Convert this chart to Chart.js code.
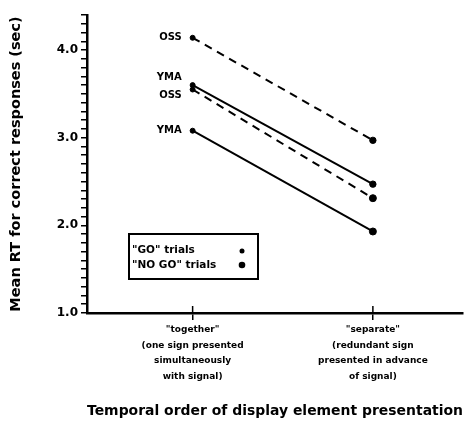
<!DOCTYPE html>
<html>
<head>
<meta charset="utf-8">
<script src="https://cdn.jsdelivr.net/npm/chart.js@4"></script>
<style>
  html, body { margin: 0; padding: 0; background: #fff; }
  #wrap { width: 473px; height: 422px; }
</style>
</head>
<body>
<div id="wrap"><canvas id="c" width="473" height="422"></canvas></div>
<script>
// ---- data ----
const categories = [
  ['"together"', '(one sign presented', 'simultaneously', 'with signal)'],
  ['"separate"', '(redundant sign', 'presented in advance', 'of signal)']
];
const categoryIndex = [0, 1];
const ossGo   = [4.14, 2.97];
const ymaGo   = [3.60, 2.47];
const ossNoGo = [3.55, 2.31];
const ymaNoGo = [3.08, 1.93];
const yLabelTicks = [1.0, 2.0, 3.0, 4.0];
const seriesNames = ['OSS', 'YMA', 'OSS', 'YMA'];
const legendLabels = ['"GO" trials', '"NO GO" trials'];

const FONT = '"DejaVu Sans", "Liberation Sans", Arial, sans-serif';

function pts(arr) { return arr.map((v, i) => ({ x: categoryIndex[i], y: v })); }

function makeSet(name, arr, dashed, endRadius) {
  return {
    label: name,
    data: pts(arr),
    borderColor: '#000',
    backgroundColor: '#000',
    borderWidth: 2,
    borderDash: dashed ? [8, 6] : [],
    pointRadius: [2.5, endRadius],
    pointBorderWidth: 1,
    pointBackgroundColor: '#000',
    pointBorderColor: '#000',
    tension: 0
  };
}

const labelOffsets = [0, -8, 6, 0]; // vertical nudges of the OSS/YMA labels

const annotPlugin = {
  id: 'annot',
  afterDatasetsDraw(chart) {
    const ctx = chart.ctx;
    const xs = chart.scales.x, ys = chart.scales.y;
    ctx.save();
    // series labels at the "together" points
    ctx.fillStyle = '#000';
    ctx.font = 'bold 10px ' + FONT;
    ctx.textAlign = 'right';
    ctx.textBaseline = 'middle';
    chart.data.datasets.forEach((ds, i) => {
      const p = ds.data[0];
      const px = xs.getPixelForValue(p.x);
      const py = ys.getPixelForValue(p.y);
      ctx.fillText(seriesNames[i], px - 11, py + labelOffsets[i]);
    });
    // x ticks crossing the axis (upper part)
    ctx.strokeStyle = '#000';
    ctx.lineWidth = 1.5;
    categoryIndex.forEach(v => {
      const px = xs.getPixelForValue(v);
      ctx.beginPath();
      ctx.moveTo(px, ys.bottom - 7);
      ctx.lineTo(px, ys.bottom);
      ctx.stroke();
    });
    // legend box
    const bx = 129, by = 234, bw = 129, bh = 45;
    ctx.lineWidth = 2;
    ctx.strokeRect(bx, by, bw, bh);
    ctx.textAlign = 'left';
    ctx.font = 'bold 10.5px ' + FONT;
    ctx.fillText(legendLabels[0], bx + 3, by + 16);
    ctx.fillText(legendLabels[1], bx + 3, by + 31);
    ctx.beginPath(); ctx.arc(bx + 113, by + 17, 2.5, 0, Math.PI * 2); ctx.fill();
    ctx.beginPath(); ctx.arc(bx + 113, by + 31, 3.3, 0, Math.PI * 2); ctx.fill();
    ctx.restore();
  }
};

new Chart(document.getElementById('c'), {
  type: 'line',
  data: {
    datasets: [
      makeSet('OSS GO', ossGo, true, 3.2),
      makeSet('YMA GO', ymaGo, false, 3.2),
      makeSet('OSS NO GO', ossNoGo, true, 3.5),
      makeSet('YMA NO GO', ymaNoGo, false, 3.5)
    ]
  },
  options: {
    responsive: false,
    animation: false,
    devicePixelRatio: 1,
    layout: { padding: { top: 15, right: 10, left: 0, bottom: 0 } },
    plugins: { legend: { display: false }, tooltip: { enabled: false } },
    scales: {
      x: {
        type: 'linear',
        min: -0.586,
        max: 1.5,
        afterBuildTicks: s => { s.ticks = categoryIndex.map(v => ({ value: v })); },
        afterFit: s => { s.height = 109; },
        border: { display: true, color: '#000', width: 2.5 },
        grid: { drawOnChartArea: false, drawTicks: true, tickLength: 7, color: '#000', lineWidth: 1.5 },
        ticks: {
          autoSkip: false,
          maxRotation: 0,
          padding: 2,
          color: '#000',
          font: { family: FONT, weight: 'bold', size: 9, lineHeight: 1.72 },
          callback: v => categories[v]
        },
        title: {
          display: true,
          align: 'start',
          text: 'Temporal order of display element presentation',
          color: '#000',
          font: { family: FONT, weight: 'bold', size: 14.5 },
          padding: { top: 0, bottom: 2 }
        }
      },
      y: {
        min: 1.0,
        max: 4.4,
        afterFit: s => { s.width = 87; },
        border: { display: true, color: '#000', width: 2.5 },
        grid: { drawOnChartArea: false, drawTicks: true, tickLength: 6, color: '#000', lineWidth: 1.5 },
        ticks: {
          stepSize: 0.1,
          maxTicksLimit: 100,
          autoSkip: false,
          padding: 3,
          color: '#000',
          font: { family: FONT, weight: 'bold', size: 12 },
          callback: v => {
            const hit = yLabelTicks.find(t => Math.abs(t - v) < 1e-6);
            return hit !== undefined ? hit.toFixed(1) : '';
          }
        },
        title: {
          display: true,
          text: 'Mean RT for correct responses (sec)',
          color: '#000',
          font: { family: FONT, weight: 'bold', size: 14.5 },
          padding: { top: 8, bottom: 0 }
        }
      }
    }
  },
  plugins: [annotPlugin]
});
</script>
</body>
</html>
